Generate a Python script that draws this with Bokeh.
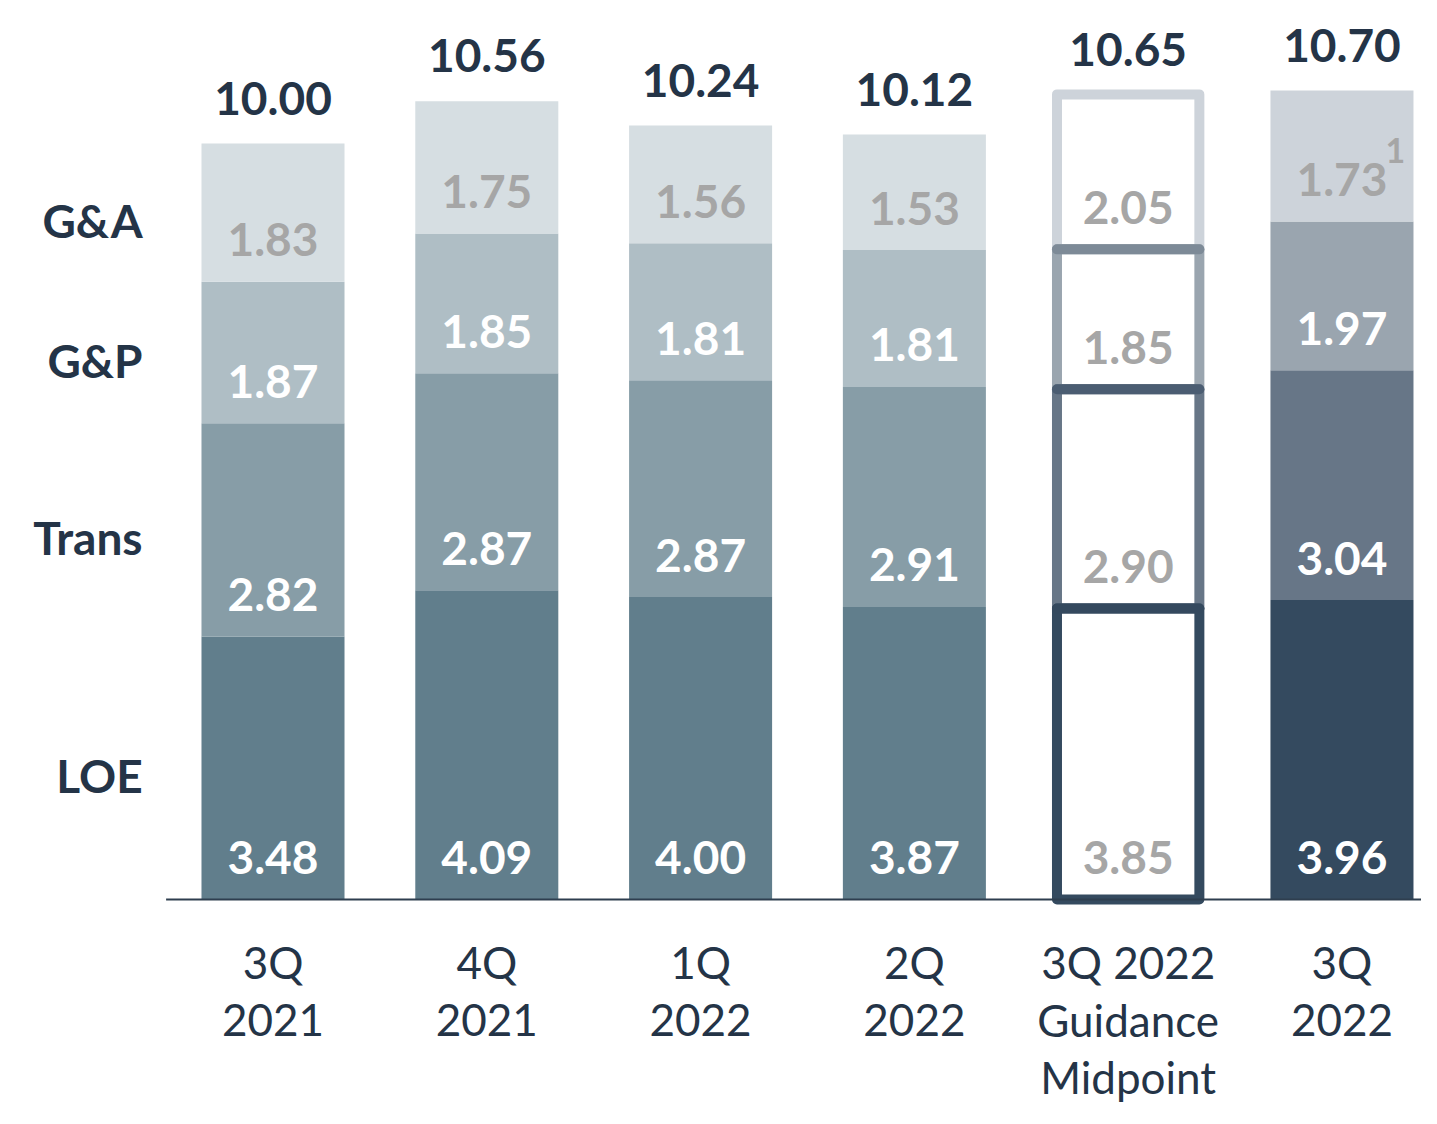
import numpy as np
from bokeh.plotting import figure
from bokeh.models import Range1d
from bokeh.core.properties import value
from bokeh.embed import file_html
from bokeh.resources import INLINE

# ---- data ----
categories = ["3Q\n2021", "4Q\n2021", "1Q\n2022", "2Q\n2022", "3Q 2022\nGuidance\nMidpoint", "3Q\n2022"]
segment_names = ["LOE", "Trans", "G&P", "G&A"]
loe = [3.48, 4.09, 4.00, 3.87, 3.85, 3.96]
trans = [2.82, 2.87, 2.87, 2.91, 2.90, 3.04]
gp = [1.87, 1.85, 1.81, 1.81, 1.85, 1.97]
ga = [1.83, 1.75, 1.56, 1.53, 2.05, 1.73]
totals = [10.00, 10.56, 10.24, 10.12, 10.65, 10.70]
total_labels = ["10.00", "10.56", "10.24", "10.12", "10.65", "10.70"]
footnote_bar = 5
footnote_text = "1"
guidance_idx = 4
actual_idx = 5

# ---- styles ----
FONT = value("Lato")
DARK = "#243447"
GRAY_TXT = "#a6a6a6"
hist_colors = ["#617e8c", "#879da7", "#afbec5", "#d6dee2"]
actual_colors = ["#344a5f", "#677687", "#9aa5af", "#cdd3da"]
divider_colors = ["#34495e", "#4b5d72", "#7d8a97"]  # tops of LOE, Trans, G&P boxes
BAR_W = 0.669

segs = np.array([loe, trans, gp, ga])
tops = np.cumsum(segs, axis=0)
bottoms = tops - segs
xs = np.arange(len(categories))

X0, X1 = -1.2746, 5.372
p = figure(width=1421, height=1108, x_range=Range1d(X0, X1), y_range=Range1d(-2.765, 11.892),
           output_backend="svg", toolbar_location=None, x_axis_location=None, y_axis_location=None,
           min_border=0)
p.xgrid.visible = False
p.ygrid.visible = False
p.outline_line_color = None
p.background_fill_color = "white"

hist_idx = [i for i in xs if i not in (guidance_idx, actual_idx)]

# filled bars
for s in range(4):
    p.vbar(x=[xs[i] for i in hist_idx], bottom=[bottoms[s][i] for i in hist_idx],
           top=[tops[s][i] for i in hist_idx], width=BAR_W, fill_color=hist_colors[s], line_color=None)
    p.vbar(x=[xs[actual_idx]], bottom=[bottoms[s][actual_idx]], top=[tops[s][actual_idx]],
           width=BAR_W, fill_color=actual_colors[s], line_color=None)

# guidance outline boxes (top first so lower ones overlay)
GW = BAR_W - 0.003
for s in [3, 2, 1, 0]:
    p.vbar(x=[xs[guidance_idx]], bottom=[bottoms[s][guidance_idx]], top=[tops[s][guidance_idx]],
           width=GW, fill_color="white", line_color=actual_colors[s], line_width=10,
           line_join="round")
for s in [2, 1, 0]:
    xg = xs[guidance_idx]
    p.segment(x0=[xg - GW / 2], x1=[xg + GW / 2],
              y0=[tops[s][guidance_idx]], y1=[tops[s][guidance_idx]],
              line_color=divider_colors[s], line_width=10, line_cap="round")

# baseline axis line
p.segment(x0=[-0.5], x1=[X1], y0=[0], y1=[0], line_color="#2e3e4f", line_width=2)

# segment value labels
LABEL_OFF = 0.555
for s in range(4):
    for i in xs:
        if i == guidance_idx or s == 3:
            col = GRAY_TXT
        else:
            col = "white"
        p.text(x=[i], y=[bottoms[s][i] + LABEL_OFF], text=[f"{segs[s][i]:.2f}"],
               text_font=FONT, text_font_style="bold", text_font_size="46px",
               text_align="center", text_baseline="middle", text_color=col)

# footnote superscript
p.text(x=[xs[footnote_bar] + 0.25], y=[bottoms[3][footnote_bar] + LABEL_OFF + 0.38], text=[footnote_text],
       text_font=FONT, text_font_style="bold", text_font_size="34px",
       text_align="center", text_baseline="middle", text_color=GRAY_TXT)

# totals
p.text(x=xs, y=[t + 0.6 for t in totals], text=total_labels, text_font=FONT, text_font_style="bold",
       text_font_size="46px", text_align="center", text_baseline="middle", text_color=DARK)

# left segment names, aligned to first bar's segment middles
for s in range(4):
    mid = (bottoms[s][0] + tops[s][0]) / 2
    p.text(x=[-0.61], y=[mid - 0.1], text=[segment_names[s]], text_font=FONT, text_font_style="bold",
           text_font_size="46px", text_align="right", text_baseline="middle", text_color=DARK)

# category labels
for i, cat in enumerate(categories):
    for j, line in enumerate(cat.split("\n")):
        p.text(x=[i], y=[-0.83 - 0.76 * j], text=[line], text_font=FONT, text_font_size="44px",
               text_align="center", text_baseline="middle", text_color=DARK)

open("out.html", "w").write(file_html(p, INLINE))
